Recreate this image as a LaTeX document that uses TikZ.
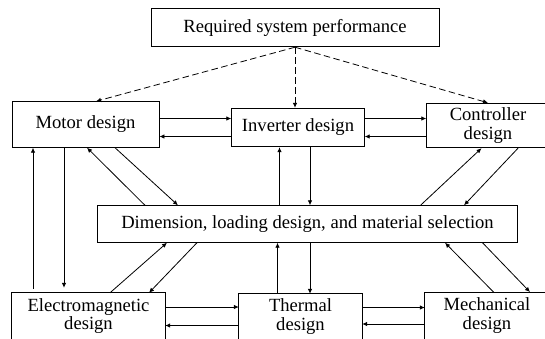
\documentclass[tikz,border=0pt]{standalone}
\usepackage{fontspec}
\setmainfont{Liberation Serif}
\usetikzlibrary{arrows.meta}

\begin{document}
\begin{tikzpicture}[x=1pt, y=-1pt,
	blk/.style={draw, line width=0.9pt, inner sep=0pt, align=center, font=\fontsize{18.6}{18.3}\selectfont},
	blkopen/.style={blk, draw=none},
	arr/.style={-{Latex[length=5pt,width=4.5pt]}, line width=0.8pt},
	dsh/.style={arr, dash pattern=on 6.5pt off 3.5pt}]

	\useasboundingbox (0,0) rectangle (545,338);
	\clip (0,0) rectangle (545,338);	% boxes run past the edges

	% blocks
	\node[blk, minimum width=288pt, minimum height=38.5pt] (req) at (295,27.5) {Required system performance};
	\node[blk, minimum width=147pt, minimum height=45.5pt] (motor) at (85.5,124.5) {Motor design};
	\node[blk, minimum width=132.5pt, minimum height=38.5pt] (inv) at (298,127.5) {Inverter design};
	\node[blk, minimum width=122.5pt, minimum height=44.5pt] (ctrl) at (488,125.5) {Controller\\design};
	\node[blk, minimum width=419.5pt, minimum height=36.5pt] (dim) at (307.5,224) {Dimension, loading design, and material selection};
	\node[blkopen, minimum width=152.5pt, minimum height=45.5pt] (em) at (88.5,316) {Electromagnetic\\design};
	\node[blkopen, minimum width=122.5pt, minimum height=44.5pt] (therm) at (300.5,316.5) {Thermal\\design};
	\node[blkopen, minimum width=123.5pt, minimum height=46pt] (mech) at (487,315.5) {Mechanical\\design};

	% lower boxes go on below the page edge
	\foreach \b in {em,therm,mech}
		\draw[line width=0.9pt] (\b.north west) rectangle ([yshift=-8pt]\b.south east);

	% requirements
	\draw[dsh] (req.south) -- ([xshift=10.5pt]motor.north);
	\draw[dsh] (req.south) -- (req.south |- inv.north);
	\draw[dsh] (req.south) -- (ctrl.north);

	% upper row
	\draw[arr] ([yshift=6pt]motor.east) -- ([yshift=9pt]inv.west);
	\draw[arr] ([yshift=-9pt]inv.west) -- ([yshift=-12pt]motor.east);
	\draw[arr] ([yshift=9pt]inv.east) -- ([yshift=7pt]ctrl.west);
	\draw[arr] ([yshift=-11pt]ctrl.west) -- ([yshift=-9pt]inv.east);

	% upper row to dimension block
	\draw[arr] ([xshift=29.5pt]motor.south) -- ([xshift=-129.5pt]dim.north);
	\draw[arr] ([xshift=-162.5pt]dim.north) -- ([xshift=1.5pt]motor.south);
	\draw[arr] ([xshift=-28pt]dim.north) -- ([xshift=-18.5pt]inv.south);
	\draw[arr] ([xshift=12pt]inv.south) -- ([xshift=2.5pt]dim.north);
	\draw[arr] ([xshift=113pt]dim.north) -- ([xshift=-6.5pt]ctrl.south);
	\draw[arr] ([xshift=30pt]ctrl.south) -- ([xshift=156.5pt]dim.north);

	% motor and electromagnetic
	\draw[arr, shorten <=4pt] ([xshift=-55.5pt]em.north) -- ([xshift=-52.5pt]motor.south);
	\draw[arr, shorten >=5pt] ([xshift=-21.5pt]motor.south) -- ([xshift=-24.5pt]em.north);

	% lower row to dimension block
	\draw[arr] ([xshift=21.5pt]em.north) -- ([xshift=-140.5pt]dim.south);
	\draw[arr] ([xshift=-110.5pt]dim.south) -- ([xshift=60.5pt]em.north);
	\draw[arr] ([xshift=-23pt]therm.north) -- ([xshift=-30pt]dim.south);
	\draw[arr] ([xshift=2.5pt]dim.south) -- ([xshift=9.5pt]therm.north);
	\draw[arr] ([xshift=6.5pt]mech.north) -- ([xshift=137.5pt]dim.south);
	\draw[arr] ([xshift=175pt]dim.south) -- ([xshift=43pt]mech.north);

	% lower row
	\draw[arr] ([yshift=9pt]em.east) -- ([yshift=9.5pt]therm.west);
	\draw[arr] ([yshift=-9pt]therm.west) -- ([yshift=-9.5pt]em.east);
	\draw[arr] ([yshift=9pt]therm.east) -- ([yshift=8pt]mech.west);
	\draw[arr] ([yshift=-8.5pt]mech.west) -- ([yshift=-7.5pt]therm.east);

\end{tikzpicture}
\end{document}
